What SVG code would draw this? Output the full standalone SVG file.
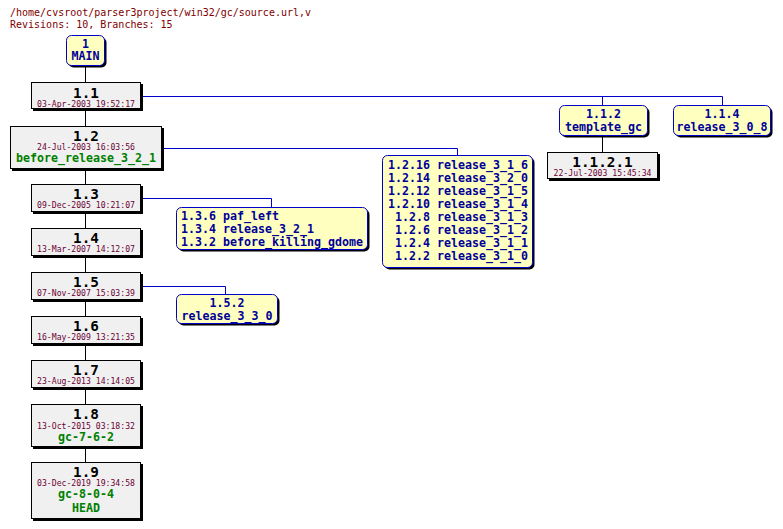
<svg xmlns="http://www.w3.org/2000/svg" width="783" height="529" viewBox="0 0 783 529">
<style>
.hdr{font-family:"DejaVu Sans Mono","Liberation Mono",monospace;font-size:10px;fill:#800000}
.rev{font-family:"DejaVu Sans Mono","Liberation Mono",monospace;font-size:14.3px;font-weight:600;fill:#000;text-anchor:middle}
.date{font-family:"DejaVu Sans Mono","Liberation Mono",monospace;font-size:8.15px;fill:#6b0034;text-anchor:middle}
.tag{font-family:"DejaVu Sans Mono","Liberation Mono",monospace;font-size:11.63px;font-weight:bold;fill:#008000;text-anchor:middle}
.btxt{font-family:"DejaVu Sans Mono","Liberation Mono",monospace;font-size:11.63px;font-weight:bold;fill:#000099}
.mid{text-anchor:middle}
.rbox{fill:#f0f0f0;stroke:#000;stroke-width:1}
.bbox{fill:#ffffc0;stroke:#0000cc;stroke-width:1}
.shadow{fill:#000}
.trunk{stroke:#000;stroke-width:1;fill:none}
.branch{stroke:#0000cc;stroke-width:1;fill:none}
</style>
<text class="hdr" x="10" y="16">/home/cvsroot/parser3project/win32/gc/source.url,v</text>
<text class="hdr" x="10" y="28">Revisions: 10, Branches: 15</text>
<g id="connectors">
<path class="trunk" d="M85.5 65V82M85.5 109V126M85.5 169V184M85.5 212V228M85.5 256V272M85.5 300V316M85.5 344V360M85.5 388V404M85.5 447V462"/>
<path class="trunk" d="M602.5 135V152"/>
<path class="branch" d="M141 96.5H722.5V105M602.5 96.5V105"/>
<path class="branch" d="M162 148.5H457.5V155"/>
<path class="branch" d="M141 198.5H271.5V207"/>
<path class="branch" d="M141 286.5H225.5V294"/>
</g>
<g id="MAIN">
<rect class="shadow" x="68.5" y="37.5" width="38" height="30" rx="5"/>
<rect class="bbox" x="66.5" y="35.5" width="38" height="30" rx="5"/>
<text class="btxt mid" x="85.5" y="48">1</text>
<text class="btxt mid" x="85.5" y="60">MAIN</text>
</g>
<g id="r1.1">
<rect class="shadow" x="33" y="84" width="110" height="27"/>
<rect class="rbox" x="31.5" y="82.5" width="109" height="26"/>
<text class="rev" x="86" y="97.5">1.1</text>
<text class="date" x="86" y="106.5">03-Apr-2003 19:52:17</text>
</g>
<g id="r1.2">
<rect class="shadow" x="12" y="128" width="152" height="43"/>
<rect class="rbox" x="10.5" y="126.5" width="151" height="42"/>
<text class="rev" x="86" y="141">1.2</text>
<text class="date" x="86" y="149.5">24-Jul-2003 16:03:56</text>
<text class="tag" x="86" y="162">before_release_3_2_1</text>
</g>
<g id="r1.3">
<rect class="shadow" x="33" y="186" width="110" height="28"/>
<rect class="rbox" x="31.5" y="184.5" width="109" height="27"/>
<text class="rev" x="86" y="199">1.3</text>
<text class="date" x="86" y="208">09-Dec-2005 10:21:07</text>
</g>
<g id="r1.4">
<rect class="shadow" x="33" y="230" width="110" height="28"/>
<rect class="rbox" x="31.5" y="228.5" width="109" height="27"/>
<text class="rev" x="86" y="243">1.4</text>
<text class="date" x="86" y="252">13-Mar-2007 14:12:07</text>
</g>
<g id="r1.5">
<rect class="shadow" x="33" y="274" width="110" height="28"/>
<rect class="rbox" x="31.5" y="272.5" width="109" height="27"/>
<text class="rev" x="86" y="287">1.5</text>
<text class="date" x="86" y="296">07-Nov-2007 15:03:39</text>
</g>
<g id="r1.6">
<rect class="shadow" x="33" y="318" width="110" height="28"/>
<rect class="rbox" x="31.5" y="316.5" width="109" height="27"/>
<text class="rev" x="86" y="331">1.6</text>
<text class="date" x="86" y="340">16-May-2009 13:21:35</text>
</g>
<g id="r1.7">
<rect class="shadow" x="33" y="362" width="110" height="28"/>
<rect class="rbox" x="31.5" y="360.5" width="109" height="27"/>
<text class="rev" x="86" y="375">1.7</text>
<text class="date" x="86" y="384">23-Aug-2013 14:14:05</text>
</g>
<g id="r1.8">
<rect class="shadow" x="33" y="406" width="110" height="43"/>
<rect class="rbox" x="31.5" y="404.5" width="109" height="42"/>
<text class="rev" x="86" y="419">1.8</text>
<text class="date" x="86" y="428.5">13-Oct-2015 03:18:32</text>
<text class="tag" x="86" y="441">gc-7-6-2</text>
</g>
<g id="r1.9">
<rect class="shadow" x="33" y="464" width="110" height="57"/>
<rect class="rbox" x="31.5" y="462.5" width="109" height="56"/>
<text class="rev" x="86" y="476.5">1.9</text>
<text class="date" x="86" y="486">03-Dec-2019 19:34:58</text>
<text class="tag" x="86" y="498">gc-8-0-4</text>
<text class="tag" x="86" y="512">HEAD</text>
</g>
<g id="b1.1.2">
<rect class="shadow" x="561.5" y="107.5" width="88" height="30" rx="5"/>
<rect class="bbox" x="559.5" y="105.5" width="88" height="30" rx="5"/>
<text class="btxt mid" x="603.5" y="118">1.1.2</text>
<text class="btxt mid" x="603.5" y="130.5">template_gc</text>
</g>
<g id="b1.1.4">
<rect class="shadow" x="675.5" y="107.5" width="97" height="30" rx="5"/>
<rect class="bbox" x="673.5" y="105.5" width="97" height="30" rx="5"/>
<text class="btxt mid" x="722" y="118">1.1.4</text>
<text class="btxt mid" x="722" y="130.5">release_3_0_8</text>
</g>
<g id="r1.1.2.1">
<rect class="shadow" x="549" y="154" width="111" height="27"/>
<rect class="rbox" x="547.5" y="152.5" width="110" height="26"/>
<text class="rev" x="602.5" y="167">1.1.2.1</text>
<text class="date" x="602.5" y="175.5">22-Jul-2003 15:45:34</text>
</g>
<g id="b1.2">
<rect class="shadow" x="384.5" y="157.5" width="150" height="112" rx="5"/>
<rect class="bbox" x="382.5" y="155.5" width="150" height="112" rx="5"/>
<text class="btxt" x="388" y="169">1.2.16 release_3_1_6</text>
<text class="btxt" x="388" y="182">1.2.14 release_3_2_0</text>
<text class="btxt" x="388" y="195">1.2.12 release_3_1_5</text>
<text class="btxt" x="388" y="208">1.2.10 release_3_1_4</text>
<text class="btxt" x="395" y="221">1.2.8 release_3_1_3</text>
<text class="btxt" x="395" y="234">1.2.6 release_3_1_2</text>
<text class="btxt" x="395" y="247">1.2.4 release_3_1_1</text>
<text class="btxt" x="395" y="260">1.2.2 release_3_1_0</text>
</g>
<g id="b1.3">
<rect class="shadow" x="178.5" y="209.5" width="191" height="42" rx="5"/>
<rect class="bbox" x="176.5" y="207.5" width="191" height="42" rx="5"/>
<text class="btxt" x="181" y="220">1.3.6 paf_left</text>
<text class="btxt" x="181" y="233">1.3.4 release_3_2_1</text>
<text class="btxt" x="181" y="246">1.3.2 before_killing_gdome</text>
</g>
<g id="b1.5.2">
<rect class="shadow" x="178.5" y="296.5" width="101" height="29" rx="5"/>
<rect class="bbox" x="176.5" y="294.5" width="101" height="29" rx="5"/>
<text class="btxt mid" x="227" y="307">1.5.2</text>
<text class="btxt mid" x="227" y="319.5">release_3_3_0</text>
</g>
</svg>
